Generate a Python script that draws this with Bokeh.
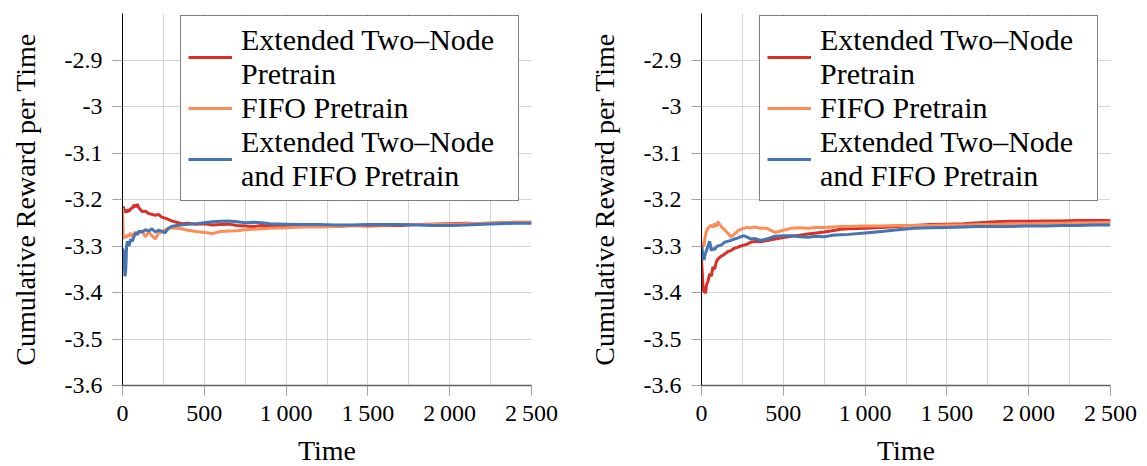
from bokeh.plotting import figure
from bokeh.models import FixedTicker, Legend, LegendItem, Range1d, ColumnDataSource
from bokeh.layouts import row
from bokeh.embed import file_html
from bokeh.resources import INLINE

# ---------------- data ----------------
time = [0, 5, 10, 15, 20, 25, 30, 40, 50, 60, 70, 80, 90, 100, 120, 140, 160, 180, 200, 220,
        240, 260, 280, 300, 330, 360, 400, 450, 500, 550, 600, 650, 700, 750, 800, 850, 900,
        1000, 1100, 1200, 1300, 1400, 1500, 1600, 1700, 1800, 1900, 2000, 2100, 2200, 2300,
        2400, 2500]

left_two_node = [-3.22, -3.215, -3.228, -3.222, -3.225, -3.228, -3.222, -3.226, -3.22, -3.218,
                 -3.212, -3.216, -3.21, -3.218, -3.226, -3.225, -3.23, -3.232, -3.234, -3.232,
                 -3.238, -3.24, -3.243, -3.246, -3.249, -3.252, -3.251, -3.253, -3.252, -3.255,
                 -3.254, -3.253, -3.256, -3.257, -3.258, -3.256, -3.257, -3.257, -3.258, -3.257,
                 -3.258, -3.256, -3.257, -3.256, -3.256, -3.254, -3.253, -3.252, -3.251, -3.252,
                 -3.25, -3.249, -3.249]
left_fifo = [-3.218, -3.285, -3.28, -3.283, -3.278, -3.282, -3.276, -3.279, -3.272, -3.28,
             -3.274, -3.27, -3.276, -3.272, -3.268, -3.28, -3.27, -3.278, -3.285, -3.272,
             -3.27, -3.265, -3.263, -3.261, -3.262, -3.263, -3.266, -3.269, -3.271, -3.273,
             -3.269, -3.268, -3.267, -3.265, -3.264, -3.263, -3.262, -3.261, -3.259, -3.259,
             -3.258, -3.256, -3.255, -3.255, -3.254, -3.254, -3.253, -3.253, -3.252, -3.251,
             -3.25, -3.25, -3.249]
left_both = [-3.305, -3.31, -3.33, -3.365, -3.35, -3.3, -3.29, -3.3, -3.285, -3.29,
             -3.28, -3.272, -3.275, -3.268, -3.27, -3.265, -3.268, -3.263, -3.27, -3.266,
             -3.268, -3.272, -3.262, -3.258, -3.256, -3.255, -3.253, -3.252, -3.25, -3.248,
             -3.247, -3.246, -3.248, -3.25, -3.249, -3.25, -3.252, -3.253, -3.254, -3.254,
             -3.255, -3.255, -3.254, -3.254, -3.254, -3.255, -3.256, -3.256, -3.255, -3.253,
             -3.252, -3.251, -3.251]

right_two_node = [-3.33, -3.36, -3.39, -3.4, -3.395, -3.402, -3.385, -3.375, -3.36, -3.365,
                  -3.345, -3.35, -3.335, -3.328, -3.322, -3.318, -3.312, -3.31, -3.305, -3.303,
                  -3.3, -3.298, -3.296, -3.292, -3.29, -3.291, -3.288, -3.285, -3.282, -3.279,
                  -3.277, -3.274, -3.272, -3.27, -3.267, -3.264, -3.263, -3.262, -3.26, -3.258,
                  -3.256, -3.254, -3.253, -3.252, -3.25, -3.248, -3.247, -3.247, -3.246, -3.246,
                  -3.245, -3.245, -3.245]
right_fifo = [-3.29, -3.305, -3.295, -3.3, -3.285, -3.275, -3.268, -3.262, -3.258, -3.255,
              -3.26, -3.252, -3.258, -3.248, -3.258, -3.265, -3.272, -3.28, -3.275, -3.268,
              -3.264, -3.262, -3.26, -3.261, -3.259, -3.262, -3.262, -3.271, -3.266, -3.262,
              -3.261, -3.262, -3.26, -3.26, -3.259, -3.258, -3.258, -3.257, -3.257, -3.256,
              -3.256, -3.256, -3.255, -3.255, -3.254, -3.253, -3.252, -3.252, -3.251, -3.251,
              -3.25, -3.25, -3.249]
right_both = [-3.3, -3.31, -3.325, -3.33, -3.322, -3.315, -3.31, -3.3, -3.29, -3.31,
              -3.305, -3.308, -3.302, -3.3, -3.298, -3.292, -3.29, -3.288, -3.285, -3.283,
              -3.28, -3.278, -3.281, -3.285, -3.284, -3.288, -3.285, -3.279, -3.278, -3.278,
              -3.28, -3.281, -3.279, -3.28, -3.277, -3.276, -3.275, -3.272, -3.269, -3.265,
              -3.262, -3.261, -3.26, -3.259, -3.258, -3.258, -3.258, -3.257, -3.257, -3.256,
              -3.256, -3.255, -3.255]

series_labels = ["Extended Two\u2013Node\nPretrain", "FIFO Pretrain",
                 "Extended Two\u2013Node\nand FIFO Pretrain"]
series_colors = ["#d73027", "#fc8d59", "#4575b4"]

x_ticks = [0, 500, 1000, 1500, 2000, 2500]
x_tick_labels = ["0", "500", "1\u2009000", "1\u2009500", "2\u2009000", "2\u2009500"]
x_grid = [0, 250, 500, 750, 1000, 1250, 1500, 1750, 2000, 2250, 2500]
y_ticks = [-3.6, -3.5, -3.4, -3.3, -3.2, -3.1, -3.0, -2.9]
y_tick_labels = ["-3.6", "-3.5", "-3.4", "-3.3", "-3.2", "-3.1", "-3", "-2.9"]

FONT = "'Liberation Serif', serif"


def make_panel(series, border_right):
    p = figure(frame_width=409, frame_height=372,
               min_border_left=122, min_border_right=border_right,
               min_border_top=13, min_border_bottom=81,
               x_range=Range1d(0, 2500), y_range=Range1d(-3.6, -2.8),
               output_backend="svg", toolbar_location=None)
    p.outline_line_color = None
    p.background_fill_color = "white"

    renderers = []
    for vals, col in zip(series, series_colors):
        src = ColumnDataSource(dict(x=time, y=vals))
        r = p.line("x", "y", source=src, line_color=col, line_width=3)
        renderers.append(r)

    # axes
    p.xaxis.ticker = FixedTicker(ticks=x_ticks)
    p.xaxis.major_label_overrides = {t: l for t, l in zip(x_ticks, x_tick_labels)}
    p.yaxis.ticker = FixedTicker(ticks=y_ticks)
    p.yaxis.major_label_overrides = {t: l for t, l in zip(y_ticks, y_tick_labels)}
    p.xgrid.ticker = FixedTicker(ticks=x_grid)
    p.ygrid.ticker = FixedTicker(ticks=y_ticks)
    for g in (p.xgrid, p.ygrid):
        g.grid_line_color = "#d4d4d4"
        g.grid_line_width = 1

    for ax in (p.xaxis, p.yaxis):
        ax.axis_label_text_font = FONT
        ax.axis_label_text_font_style = "normal"
        ax.axis_label_text_font_size = "28px"
        ax.axis_label_text_color = "black"
        ax.major_label_text_font = FONT
        ax.major_label_text_font_size = "24px"
        ax.major_label_text_color = "black"
        ax.major_tick_in = 0
        ax.major_tick_out = 10
        ax.major_tick_line_color = "#a0a0a0"
        ax.minor_tick_line_color = None
    p.xaxis.axis_label = "Time"
    p.yaxis.axis_label = "Cumulative Reward per Time"
    p.yaxis.axis_line_color = "black"
    p.xaxis.axis_line_color = "#606060"
    p.xaxis.axis_line_width = 1.5
    p.xaxis.major_label_standoff = 4
    p.yaxis.major_label_standoff = 10
    p.xaxis.axis_label_standoff = 6
    p.yaxis.axis_label_standoff = 21

    items = [LegendItem(label=lab, renderers=[r]) for lab, r in zip(series_labels, renderers)]
    leg = Legend(items=items, location=(58, 184))
    leg.margin = 0
    leg.padding = 7
    leg.spacing = 0
    leg.glyph_width = 44
    leg.glyph_height = 30
    leg.label_standoff = 9
    leg.label_width = 270
    leg.label_text_font = FONT
    leg.label_text_font_size = "30px"
    leg.label_text_color = "black"
    leg.border_line_color = "black"
    leg.border_line_width = 1
    leg.background_fill_alpha = 1
    p.add_layout(leg)
    return p


p1 = make_panel([left_two_node, left_fifo, left_both], 48)
p2 = make_panel([right_two_node, right_fifo, right_both], 37)
layout = row(p1, p2)

open("out.html", "w").write(file_html(layout, INLINE))
